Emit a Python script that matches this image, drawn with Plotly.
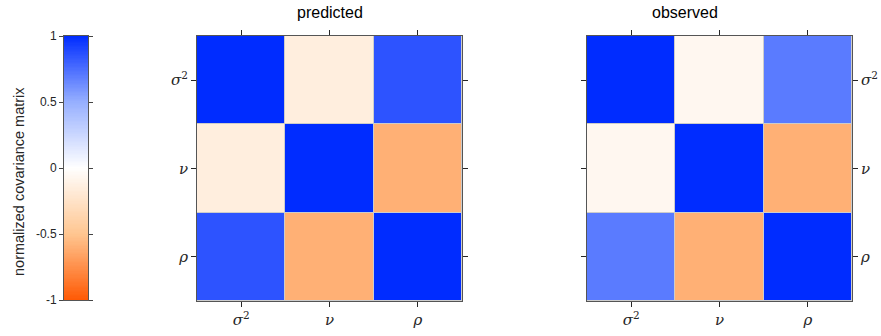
import numpy as np
import plotly.graph_objects as go

params = ["<i>σ</i><sup>2</sup>", "<i>ν</i>", "<i>ρ</i>"]
predicted = [[1.0, -0.15, 0.85],
             [-0.15, 1.0, -0.6],
             [0.85, -0.6, 1.0]]
observed = [[1.0, -0.07, 0.70],
            [-0.07, 1.0, -0.6],
            [0.70, -0.6, 1.0]]
titles = ["predicted", "observed"]
cbar_ticks = [-1, -0.5, 0, 0.5, 1]
cbar_labels = ["-1", "-0.5", "0", "0.5", "1"]
cbar_title = "normalized covariance matrix"

cscale = [[0.0, "rgb(255,90,5)"], [0.25, "rgb(255,198,145)"], [0.5, "rgb(255,255,255)"],
          [0.75, "rgb(150,175,255)"], [1.0, "rgb(0,44,255)"]]

W, H = 881, 336
def px(x): return x / W
def py(y): return 1 - y / H

fig = go.Figure()
serif = dict(family="DejaVu Serif", size=15, color="#262626")
sans = "Liberation Sans, Arial, sans-serif"

for i, (mat, t) in enumerate(zip([predicted, observed], titles)):
    xa = "x" if i == 0 else "x2"
    ya = "y" if i == 0 else "y2"
    fig.add_trace(go.Heatmap(z=mat, x=params, y=params, colorscale=cscale, zmin=-1, zmax=1,
                             showscale=False, xgap=1, ygap=1, xaxis=xa, yaxis=ya))

# colorbar as its own axes
cb_vals = np.linspace(-1, 1, 201)
fig.add_trace(go.Heatmap(z=[[v] for v in cb_vals], x=[0], y=cb_vals, colorscale=cscale,
                         zmin=-1, zmax=1, showscale=False, xaxis="x3", yaxis="y3"))

ax_common = dict(showline=True, linecolor="#555555", linewidth=1, mirror="allticks",
                 ticks="outside", ticklen=5, tickcolor="#262626", showgrid=False,
                 zeroline=False, tickfont=serif, fixedrange=True, automargin=False)

doms = [(197, 462), (587, 852)]
for i, (x0, x1) in enumerate(doms):
    sfx = "" if i == 0 else "2"
    fig.update_layout(**{
        "xaxis" + sfx: dict(domain=[px(x0), px(x1)], anchor="y" + sfx, **ax_common),
        "yaxis" + sfx: dict(domain=[py(301), py(36)], anchor="x" + sfx, autorange="reversed",
                            side="left" if i == 0 else "right", **ax_common),
    })
    fig.add_annotation(text=titles[i], x=(px(x0) + px(x1)) / 2, y=py(13), xref="paper",
                       yref="paper", yanchor="middle", showarrow=False,
                       font=dict(family=sans, size=16, color="black"))

fig.add_annotation(text=cbar_title, x=px(19), y=py(182), xref="paper", yref="paper",
                   xanchor="center", yanchor="middle", textangle=-90, showarrow=False,
                   font=dict(family=sans, size=14.5, color="#262626"))

fig.update_layout(
    xaxis3=dict(domain=[px(64), px(88)], anchor="y3", showticklabels=False, ticks="",
                showline=True, linecolor="#555555", mirror=True, showgrid=False,
                zeroline=False, range=[-0.5, 0.5], fixedrange=True, automargin=False),
    yaxis3=dict(domain=[py(300), py(36)], anchor="x3", range=[-1, 1], tickvals=cbar_ticks,
                ticktext=cbar_labels, ticks="outside", ticklen=4, mirror="allticks",
                showline=True, linecolor="#555555", showgrid=False, zeroline=False,
                tickfont=dict(family=sans, size=12, color="#262626"), fixedrange=True,
                automargin=False),
    width=W, height=H, margin=dict(l=0, r=0, t=0, b=0),
    paper_bgcolor="white", plot_bgcolor="#cccccc", showlegend=False,
)

fig.write_html("out.html", config={"displayModeBar": False},
               post_script="document.body.style.margin='0';")
